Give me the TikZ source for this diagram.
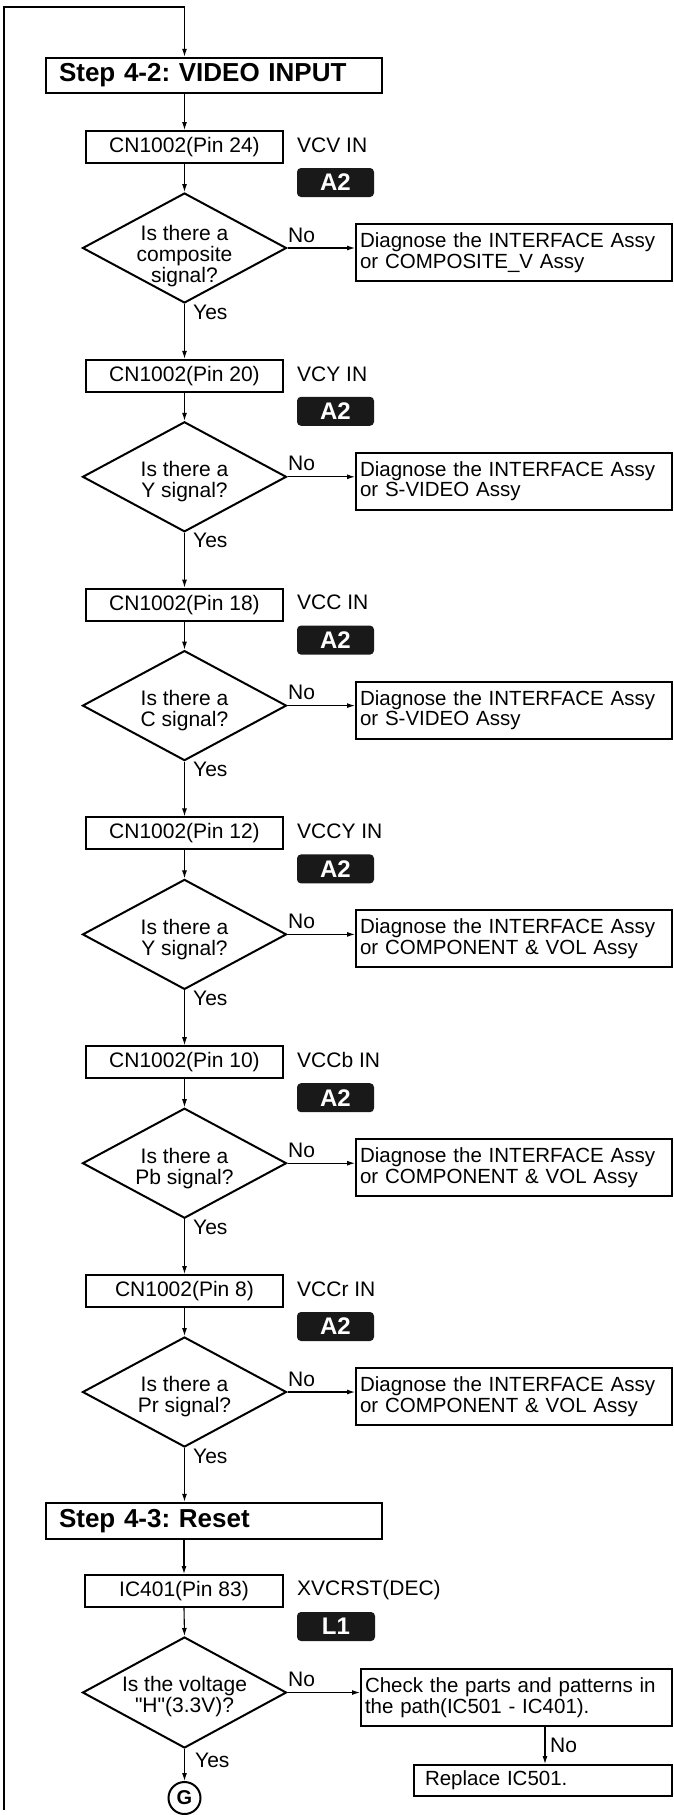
\documentclass[tikz,border=0pt]{standalone}
\usepackage{fontspec}
\setmainfont{Liberation Sans}
\newfontfamily\qf{Liberation Sans}
\usetikzlibrary{arrows.meta,shapes.geometric}
\begin{document}
\frenchspacing
\begin{tikzpicture}[x=1pt,y=-1pt,
  base/.style={font=\fontsize{21}{21}\selectfont},
  box/.style={draw, line width=2pt, minimum height=32pt, minimum width=197pt, inner sep=0pt, base},
  stepbox/.style={draw, line width=2.5pt, minimum height=35pt, text width=310pt, inner xsep=13pt, inner ysep=0pt, align=left, font=\bfseries\fontsize{26}{26}\selectfont},
  diag/.style={draw, line width=2pt, text width=308pt, inner xsep=4pt, inner ysep=0pt, align=left, minimum height=57pt, font=\fontsize{20.5}{20.5}\selectfont},
  dia/.style={draw, diamond, line width=2pt, minimum width=204pt, minimum height=110pt, inner sep=0pt},
  dtext/.style={align=center, base, inner sep=0pt},
  lbl/.style={anchor=west, base, inner sep=0pt},
  badge/.style={fill=black!90, rounded corners=4pt, minimum width=77pt, minimum height=29pt, text=white, font=\bfseries\fontsize{24}{24}\selectfont, inner sep=0pt},
  arr/.style={-{Latex[length=8pt,width=5pt]}, line width=1.1pt},
]
\useasboundingbox (0,0) rectangle (673,1815);

\coordinate (fbot) at (4,1810);
\coordinate (ftop) at (184.5,7);

\node[stepbox] (s42) at (214,75.5) {Step 4-2: VIDEO INPUT};

% Block 0
\node[box] (cn0) at (184.5,147) {CN1002(Pin 24)};
\node[lbl] (v0) at (297,145) {VCV IN};
\node[badge] (a0) at (335.5,182.5) {A2};
\node[dia] (d0) at (184.5,248) {};
\node[dtext] (t0) at (184.5,256) {Is there a\\composite\\signal?};
\node[diag] (g0) at (514,252.5) {Diagnose the INTERFACE Assy\\or COMPOSITE\_V Assy};
\node[lbl] (n0) at (288,235) {No};
\node[lbl] (y0) at (193,312) {Yes};

% Block 1
\node[box] (cn1) at (184.5,375.8) {CN1002(Pin 20)};
\node[lbl] (v1) at (297,373.8) {VCY IN};
\node[badge] (a1) at (335.5,411.3) {A2};
\node[dia] (d1) at (184.5,476.8) {};
\node[dtext] (t1) at (184.5,481.8) {Is there a\\Y signal?};
\node[diag] (g1) at (514,481.3) {Diagnose the INTERFACE Assy\\or S-VIDEO Assy};
\node[lbl] (n1) at (288,463.8) {No};
\node[lbl] (y1) at (193,540.8) {Yes};

% Block 2
\node[box] (cn2) at (184.5,604.6) {CN1002(Pin 18)};
\node[lbl] (v2) at (297,602.6) {VCC IN};
\node[badge] (a2) at (335.5,640.1) {A2};
\node[dia] (d2) at (184.5,705.6) {};
\node[dtext] (t2) at (184.5,710.6) {Is there a\\C signal?};
\node[diag] (g2) at (514,710.1) {Diagnose the INTERFACE Assy\\or S-VIDEO Assy};
\node[lbl] (n2) at (288,692.6) {No};
\node[lbl] (y2) at (193,769.6) {Yes};

% Block 3
\node[box] (cn3) at (184.5,833.4) {CN1002(Pin 12)};
\node[lbl] (v3) at (297,831.4) {VCCY IN};
\node[badge] (a3) at (335.5,868.9) {A2};
\node[dia] (d3) at (184.5,934.4) {};
\node[dtext] (t3) at (184.5,939.4) {Is there a\\Y signal?};
\node[diag] (g3) at (514,938.9) {Diagnose the INTERFACE Assy\\or COMPONENT \& VOL Assy};
\node[lbl] (n3) at (288,921.4) {No};
\node[lbl] (y3) at (193,998.4) {Yes};

% Block 4
\node[box] (cn4) at (184.5,1062.2) {CN1002(Pin 10)};
\node[lbl] (v4) at (297,1060.2) {VCCb IN};
\node[badge] (a4) at (335.5,1097.7) {A2};
\node[dia] (d4) at (184.5,1163.2) {};
\node[dtext] (t4) at (184.5,1168.2) {Is there a\\Pb signal?};
\node[diag] (g4) at (514,1167.7) {Diagnose the INTERFACE Assy\\or COMPONENT \& VOL Assy};
\node[lbl] (n4) at (288,1150.2) {No};
\node[lbl] (y4) at (193,1227.2) {Yes};

% Block 5
\node[box] (cn5) at (184.5,1291) {CN1002(Pin 8)};
\node[lbl] (v5) at (297,1289) {VCCr IN};
\node[badge] (a5) at (335.5,1326.5) {A2};
\node[dia] (d5) at (184.5,1392) {};
\node[dtext] (t5) at (184.5,1397) {Is there a\\Pr signal?};
\node[diag] (g5) at (514,1396.5) {Diagnose the INTERFACE Assy\\or COMPONENT \& VOL Assy};
\node[lbl] (n5) at (288,1379) {No};
\node[lbl] (y5) at (193,1456) {Yes};

% Step 4-3
\node[stepbox, minimum height=36pt] (s43) at (214,1521) {Step 4-3: Reset};
\node[box, minimum width=198pt] (ic) at (184,1591) {IC401(Pin 83)};
\node[lbl] (xv) at (297,1590) {XVCRST(DEC)};
\node[badge, minimum width=78pt] (l1) at (336,1626.5) {L1};
\node[dia, minimum height=111pt] (d6) at (184.5,1692.5) {};
\node[dtext] (t6) at (184.5,1697) {Is the voltage\\{\qf"}H{\qf"}(3.3V)?};
\node[lbl] (n6) at (288,1679.5) {No};
\node[lbl] (y6) at (195,1760) {Yes};
\node[diag, text width=303pt] (chk) at (516.5,1697.5) {Check the parts and patterns in\\the path(IC501 - IC401).};
\node[diag, text width=236pt, inner xsep=11pt, minimum height=31pt] (rep) at (543,1780.5) {Replace IC501.};
\node[lbl] (n7) at (550,1745) {No};
\node[draw, circle, line width=2pt, minimum size=32pt, inner sep=0pt, font=\bfseries\fontsize{20}{20}\selectfont] (G) at (184.5,1798) {G};

% Connectors
\draw[arr] (fbot) |- (ftop) -- (ftop |- s42.north);
\draw[arr] (cn0.north |- s42.south) -- (cn0.north);
\foreach \i in {0,...,5} {
  \draw[arr] (cn\i.south) -- (d\i.north);
  \draw[arr] (d\i.east) -- (g\i.west |- d\i.east);
}
\draw[arr] (d0.south) -- (cn1.north);
\draw[arr] (d1.south) -- (cn2.north);
\draw[arr] (d2.south) -- (cn3.north);
\draw[arr] (d3.south) -- (cn4.north);
\draw[arr] (d4.south) -- (cn5.north);
\draw[arr] (d5.south) -- (d5.south |- s43.north);
\draw[arr] (ic.north |- s43.south) -- (ic.north);
\draw[arr] (ic.south) -- (d6.north);
\draw[arr] (d6.east) -- (chk.west |- d6.east);
\draw[arr] ([xshift=2pt]rep.north |- chk.south) -- ([xshift=2pt]rep.north);
\draw[arr] (d6.south) -- (G.north);
\end{tikzpicture}
\end{document}
